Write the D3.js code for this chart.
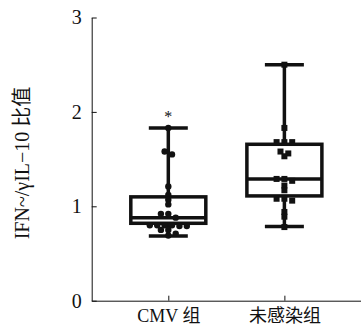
<!DOCTYPE html>
<html lang="zh">
<head>
<meta charset="utf-8">
<title>IFN/IL-10 box plot</title>
<script src="https://cdn.jsdelivr.net/npm/d3@7"></script>
<style>
    body { margin: 0; background: #fff; }
    svg text { font-family: 'Liberation Serif', 'DejaVu Serif', 'Noto Sans CJK SC', serif !important; fill: #111; }
    .axis path, .axis line { stroke: #111; stroke-width: 1px; }
</style>
</head>
<body>
<script>
    // data
    var groups = ['CMV 组', '未感染组'];
    var cmvPoints = [1.83, 1.58, 1.55, 1.21, 1.12, 1.07, 1.02, 0.92, 0.92, 0.88,
        0.80, 0.79, 0.80, 0.79, 0.80, 0.80, 0.75, 0.75, 0.71, 0.69];
    var ctrlPoints = [2.50, 1.83, 1.68, 1.68, 1.68, 1.58, 1.56, 1.53, 1.29, 1.29,
        1.27, 1.22, 1.17, 1.08, 1.08, 1.06, 0.94, 0.89, 0.78];
    // [min, q1, median, q3, max]
    var cmvBox = [0.685, 0.82, 0.88, 1.10, 1.83];
    var ctrlBox = [0.785, 1.11, 1.29, 1.657, 2.50];
    var yTicks = [0, 1, 2, 3];
    var yLabel = 'IFN~/γIL−10 比值';

    var width = 361, height = 331;
    var x0 = 91.7, yTop = 17.5, yBottom = 300.7;

    var svg = d3.select('body').append('svg')
        .attr('width', width)
        .attr('height', height);

    var yScale = d3.scaleLinear().domain([0, 3]).range([yBottom, yTop]);
    var xScale = d3.scalePoint().domain(groups).range([x0, width]).padding(0.66);

    var yAxis = d3.axisLeft(yScale)
        .tickValues(yTicks)
        .tickFormat(d3.format('d'))
        .tickSizeInner(-5)
        .tickSizeOuter(0)
        .tickPadding(10);
    svg.append('g')
        .attr('class', 'axis')
        .attr('transform', 'translate(' + x0 + ',0)')
        .call(yAxis)
        .attr('font-family', null)
        .selectAll('text')
        .style('font-size', '20px');

    var xAxis = d3.axisBottom(xScale)
        .tickSizeInner(-5)
        .tickSizeOuter(0)
        .tickPadding(9);
    svg.append('g')
        .attr('class', 'axis')
        .attr('transform', 'translate(0,' + yBottom + ')')
        .call(xAxis)
        .attr('font-family', null)
        .selectAll('text')
        .style('font-size', '18px');

    svg.append('text')
        .attr('transform', 'translate(29,163) rotate(-90)')
        .attr('text-anchor', 'middle')
        .style('font-size', '20px')
        .text(yLabel);

    var boxW = 75, capW = 39;
    var data = [
        {name: groups[0], box: cmvBox, pts: cmvPoints, shape: 'circle', step: 7.4},
        {name: groups[1], box: ctrlBox, pts: ctrlPoints, shape: 'square', step: 7.8}
    ];

    // simple dodge: points within a few px of each other share a row
    function dodge(values, step) {
        var sorted = values.slice().sort(function(a, b) { return b - a; });
        var rows = [], out = [];
        sorted.forEach(function(v) {
            var last = rows[rows.length - 1];
            if (last && Math.abs(yScale(last[0]) - yScale(v)) < 4) last.push(v);
            else rows.push([v]);
        });
        rows.forEach(function(r) {
            r.forEach(function(v, i) {
                var off = (i - (r.length - 1) / 2) * step;
                out.push({v: v, dx: off});
            });
        });
        return out;
    }

    data.forEach(function(g) {
        var cx = xScale(g.name);
        var b = g.box;
        var grp = svg.append('g').attr('class', 'box');

        grp.append('line')
            .attr('x1', cx).attr('x2', cx)
            .attr('y1', yScale(b[4])).attr('y2', yScale(b[0]))
            .attr('stroke', '#111').attr('stroke-width', 3.5);
        [b[0], b[4]].forEach(function(v) {
            grp.append('line')
                .attr('x1', cx - capW / 2).attr('x2', cx + capW / 2)
                .attr('y1', yScale(v)).attr('y2', yScale(v))
                .attr('stroke', '#111').attr('stroke-width', 3.5);
        });
        grp.append('rect')
            .attr('x', cx - boxW / 2)
            .attr('y', yScale(b[3]))
            .attr('width', boxW)
            .attr('height', yScale(b[1]) - yScale(b[3]))
            .attr('fill', '#fff')
            .attr('stroke', '#111')
            .attr('stroke-width', 3.5);
        grp.append('line')
            .attr('x1', cx - boxW / 2).attr('x2', cx + boxW / 2)
            .attr('y1', yScale(b[2])).attr('y2', yScale(b[2]))
            .attr('stroke', '#111').attr('stroke-width', 3.5);

        var pts = dodge(g.pts, g.step);
        if (g.shape === 'circle') {
            grp.selectAll('circle.pt')
                .data(pts).enter().append('circle')
                .attr('class', 'pt')
                .attr('cx', function(d) { return cx + d.dx; })
                .attr('cy', function(d) { return yScale(d.v); })
                .attr('r', 3.2)
                .attr('fill', '#111');
        } else {
            grp.selectAll('rect.pt')
                .data(pts).enter().append('rect')
                .attr('class', 'pt')
                .attr('x', function(d) { return cx + d.dx - 3; })
                .attr('y', function(d) { return yScale(d.v) - 3; })
                .attr('width', 6)
                .attr('height', 6)
                .attr('fill', '#111');
        }
    });

    svg.append('text')
        .attr('x', xScale(groups[0]))
        .attr('y', yScale(cmvBox[4]) - 6)
        .attr('text-anchor', 'middle')
        .style('font-size', '16px')
        .text('*');
</script>
</body>
</html>
